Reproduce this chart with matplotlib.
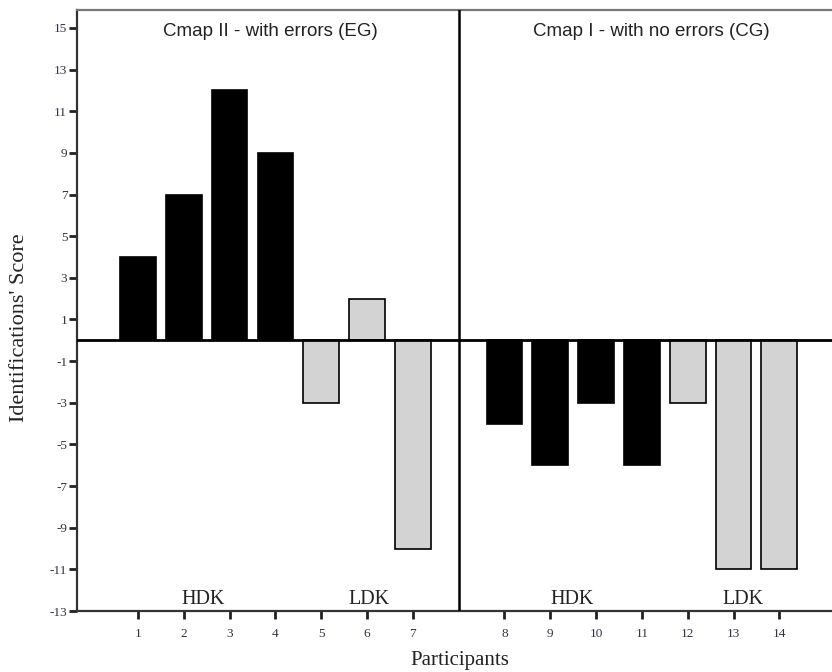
import matplotlib
matplotlib.use("Agg")
import matplotlib.pyplot as plt
import numpy as np

participants = list(range(1, 15))
eg_scores = [4, 7, 12, 9, -3, 2, -10]
cg_scores = [-4, -6, -3, -6, -3, -11, -11]
eg_groups = ["HDK", "HDK", "HDK", "HDK", "LDK", "LDK", "LDK"]
cg_groups = ["HDK", "HDK", "HDK", "HDK", "LDK", "LDK", "LDK"]
yticks = list(range(15, -14, -2))

group_colors = {"HDK": "#000000", "LDK": "#d3d3d3"}

fig = plt.figure(figsize=(8.32, 6.72), dpi=100)
ax = fig.add_axes([77/832, 1 - 611/672, 1 - 77/832, (611 - 10)/672])

eg_pos = np.arange(1, 8)
cg_pos = np.arange(9, 16)
ax.bar(eg_pos, eg_scores, width=0.78, color=[group_colors[g] for g in eg_groups],
       edgecolor="black", linewidth=1.2, zorder=2)
ax.bar(cg_pos, cg_scores, width=0.78, color=[group_colors[g] for g in cg_groups],
       edgecolor="black", linewidth=1.2, zorder=2)

ax.axhline(0, color="black", linewidth=2.0, zorder=3)
ax.axvline(8, color="black", linewidth=1.8, zorder=3)

ax.set_xlim(-0.33, 16.15)
ax.set_ylim(-13, 15.86)

ax.set_xticks(list(eg_pos) + list(cg_pos))
ax.set_xticklabels([str(p) for p in participants])
ax.set_yticks(yticks)
ax.set_yticklabels([str(v) for v in yticks])

serif = "Liberation Serif"
for lab in ax.get_xticklabels() + ax.get_yticklabels():
    lab.set_fontfamily(serif)
    lab.set_fontsize(9.5)
    lab.set_color("#333344")

ax.tick_params(axis="both", direction="out", length=6, width=2, color="#222222")
ax.tick_params(axis="x", pad=6)
ax.tick_params(axis="y", pad=1)

for side in ["left", "bottom"]:
    ax.spines[side].set_linewidth(1.6)
    ax.spines[side].set_color("#333333")
ax.spines["top"].set_linewidth(1.6)
ax.spines["top"].set_color("#777777")
ax.spines["right"].set_visible(False)

ax.text(3.9, 14.85, "Cmap II - with errors (EG)", ha="center", va="center",
        fontsize=13.5, family="Liberation Sans", color="#222222")
ax.text(12.2, 14.85, "Cmap I - with no errors (CG)", ha="center", va="center",
        fontsize=13.5, family="Liberation Sans", color="#222222")

for x, t in [(2.42, "HDK"), (6.04, "LDK"), (10.48, "HDK"), (14.2, "LDK")]:
    ax.text(x, -12.45, t, ha="center", va="center", fontsize=14.5,
            family=serif, color="#222222")

fig.text(460/832, 1 - 661/672, "Participants", ha="center", va="center",
         fontsize=15, family=serif, color="#222222")
fig.text(20/832, 1 - 328/672, "Identifications' Score", ha="center", va="center",
         rotation=90, fontsize=16, family=serif, color="#222222")

fig.savefig("out.png", dpi=100)
